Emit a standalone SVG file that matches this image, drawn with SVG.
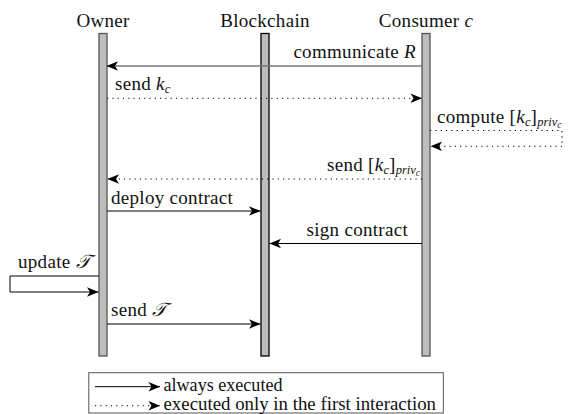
<svg xmlns="http://www.w3.org/2000/svg" width="573" height="414" viewBox="0 0 573 414">
  <style>
    text { font-family: "Liberation Serif", "DejaVu Serif", serif; font-size: 19px; letter-spacing: 0.3px; fill: #111; }
    .it { font-style: italic; }
    .sub { font-size: 12.5px; letter-spacing: 0; }
    .subsub { font-size: 9.5px; letter-spacing: 0; }
    .legend-text { font-size: 18px; letter-spacing: 0; }
    .bar { fill: #bdbdbd; stroke: #555; stroke-width: 1.3; }
    .bar-dark { fill: #bdbdbd; stroke: #000; stroke-width: 1.3; }
    .msg { fill: none; stroke: #000; stroke-width: 1; marker-end: url(#head); }
    .msg-grey { fill: none; stroke: #777; stroke-width: 1.4; marker-end: url(#head); }
    .dot { fill: none; stroke: #000; stroke-width: 1.1; stroke-dasharray: 1.2 4.1; }
    .dot-arrow { fill: none; stroke: #000; stroke-width: 1.1; stroke-dasharray: 1.2 4.1; marker-end: url(#head); }
    .frame { fill: #fff; stroke: #555; stroke-width: 1; }
  </style>
  <defs>
    <!-- stealth-style arrowhead, tip at the path end -->
    <marker id="head" viewBox="-12 -6 13 12" refX="0" refY="0" markerWidth="13" markerHeight="12" markerUnits="userSpaceOnUse" orient="auto">
      <path d="M0,0 L-11.5,-4.7 L-8.5,0 L-11.5,4.7 Z" fill="#000" stroke="none"/>
    </marker>
  </defs>

  <!-- participants -->
  <g id="owner">
    <text x="103" y="27" text-anchor="middle">Owner</text>
    <rect class="bar" x="99" y="33.5" width="8" height="322.5"/>
  </g>
  <g id="blockchain">
    <text x="265" y="27" text-anchor="middle">Blockchain</text>
    <rect class="bar-dark" x="261" y="33.5" width="8" height="322.5"/>
  </g>
  <g id="consumer">
    <text x="426" y="27" text-anchor="middle">Consumer <tspan class="it">c</tspan></text>
    <rect class="bar" x="422" y="33.5" width="8" height="322.5"/>
  </g>

  <!-- messages -->
  <g id="connectors">
    <path class="msg-grey" d="M422,66 L106.5,66"/>
    <path class="dot-arrow" d="M107,98.3 L422,98.3"/>
    <path class="dot" d="M430,130.5 L562,130.5 L562,146.3"/>
    <path class="dot-arrow" d="M562,146.3 L430.5,146.3"/>
    <path class="dot-arrow" d="M422,179 L107.5,179"/>
    <path class="msg" d="M107,211 L260.5,211"/>
    <path class="msg" d="M422,243.5 L269.5,243.5"/>
    <path class="msg" d="M99,276 L10,276 L10,292 L98.5,292"/>
    <path class="msg" d="M107,324 L260.5,324"/>
  </g>

  <!-- message labels -->
  <g id="labels">
    <text x="416" y="57.5" text-anchor="end">communicate <tspan class="it">R</tspan></text>
    <text x="115" y="90">send <tspan class="it">k</tspan><tspan class="sub it" dy="3">c</tspan></text>
    <text x="437" y="123">compute [<tspan class="it">k</tspan><tspan class="sub it" dy="3">c</tspan><tspan dy="-3">]</tspan><tspan class="sub it" dy="3">priv</tspan><tspan class="subsub it" dy="2">c</tspan></text>
    <text x="420" y="170.5" text-anchor="end">send [<tspan class="it">k</tspan><tspan class="sub it" dy="3">c</tspan><tspan dy="-3">]</tspan><tspan class="sub it" dy="3">priv</tspan><tspan class="subsub it" dy="2">c</tspan></text>
    <text x="111" y="203.5">deploy contract</text>
    <text x="408" y="235.5" text-anchor="end">sign contract</text>
    <text x="18" y="268">update <tspan class="it">𝒯</tspan></text>
    <text x="111" y="315.5">send <tspan class="it">𝒯</tspan></text>
  </g>

  <!-- legend -->
  <g id="legend">
    <rect class="frame" x="88.8" y="372.7" width="354.5" height="40.3"/>
    <path class="msg" d="M95,386.7 L160,386.7"/>
    <path class="dot-arrow" d="M95,405.7 L160,405.7"/>
    <text class="legend-text" x="163.5" y="391" textLength="119" lengthAdjust="spacingAndGlyphs">always executed</text>
    <text class="legend-text" x="163.5" y="410" textLength="272.5" lengthAdjust="spacingAndGlyphs">executed only in the first interaction</text>
  </g>
</svg>
